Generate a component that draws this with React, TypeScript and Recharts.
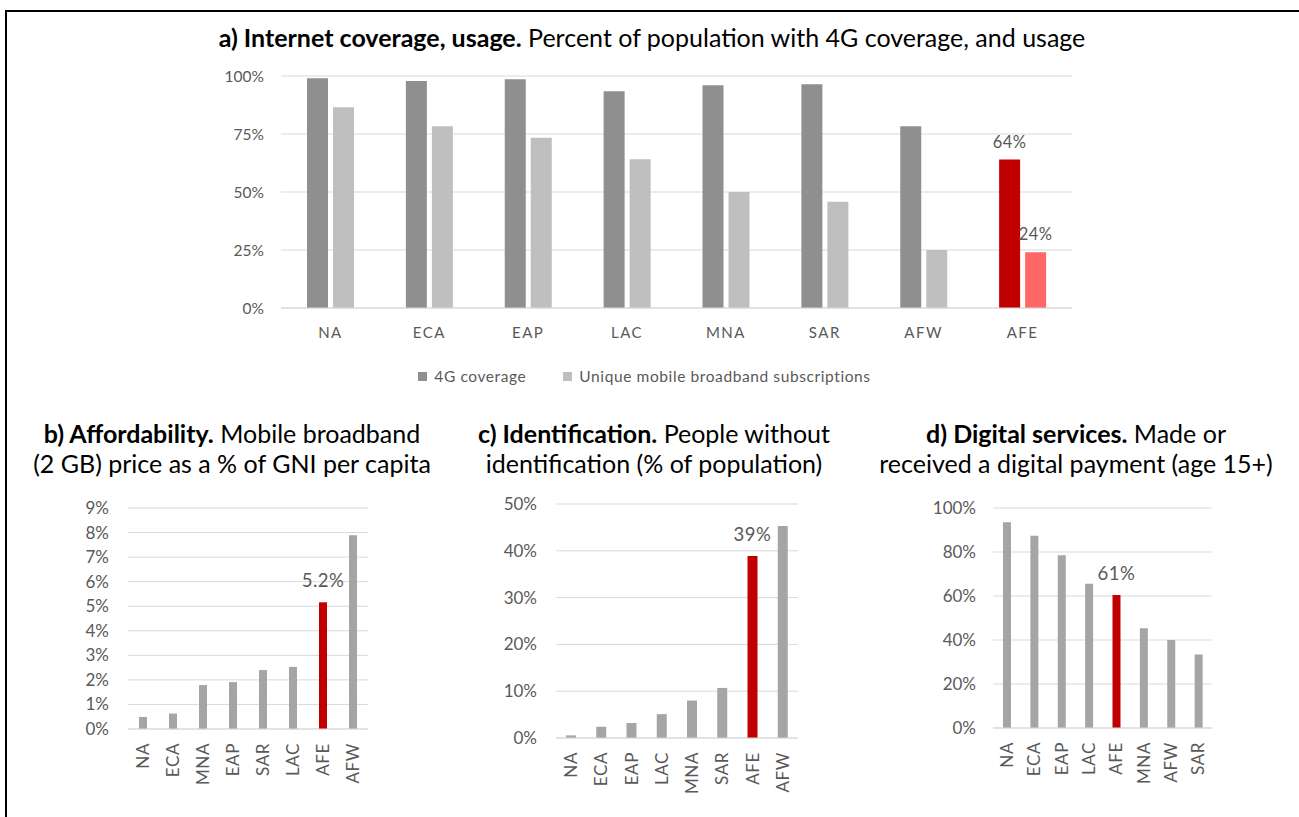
import React from 'react'
import {
  Bar,
  BarChart,
  CartesianGrid,
  Cell,
  LabelList,
  Legend,
  XAxis,
  YAxis
} from 'recharts'

// a) Internet coverage, usage
const regionsA = ['NA', 'ECA', 'EAP', 'LAC', 'MNA', 'SAR', 'AFW', 'AFE']
const coverage4G = [99, 97.8, 98.6, 93.4, 96, 96.4, 78.3, 64]
const broadbandSubs = [86.5, 78.3, 73.4, 64.1, 50, 45.8, 25, 24]
const coverageLabels = ['', '', '', '', '', '', '', '64%']
const subsLabels = ['', '', '', '', '', '', '', '24%']
const ticksA = [0, 25, 50, 75, 100]

// b) Affordability
const regionsB = ['NA', 'ECA', 'MNA', 'EAP', 'SAR', 'LAC', 'AFE', 'AFW']
const priceShare = [0.49, 0.63, 1.79, 1.91, 2.4, 2.53, 5.16, 7.89]
const priceLabels = ['', '', '', '', '', '', '5.2%', '']
const ticksB = [0, 1, 2, 3, 4, 5, 6, 7, 8, 9]

// c) Identification
const regionsC = ['NA', 'ECA', 'EAP', 'LAC', 'MNA', 'SAR', 'AFE', 'AFW']
const noIdShare = [0.56, 2.4, 3.2, 5.1, 8.0, 10.7, 38.9, 45.3]
const noIdLabels = ['', '', '', '', '', '', '39%', '']
const ticksC = [0, 10, 20, 30, 40, 50]

// d) Digital services
const regionsD = ['NA', 'ECA', 'EAP', 'LAC', 'AFE', 'MNA', 'AFW', 'SAR']
const digitalPay = [93.5, 87.4, 78.5, 65.6, 60.4, 45.3, 40, 33.4]
const digitalLabels = ['', '', '', '', '61%', '', '', '']
const ticksD = [0, 20, 40, 60, 80, 100]

const FONT = 'Lato, "Open Sans", sans-serif'
const TEXT = '#595959'
const GRID = '#d9d9d9'
const DARK = '#8f8f8f'
const LIGHT = '#bfbfbf'
const RED = '#c00000'
const LIGHT_RED = '#ff6666'
const BAR_GREY = '#a5a5a5'

const pct = (v: number) => `${v}%`

const dataA = regionsA.map((name, i) => ({
  name,
  coverage: coverage4G[i],
  subs: broadbandSubs[i],
  coverageLabel: coverageLabels[i],
  subsLabel: subsLabels[i]
}))

function TopLegend() {
  const items = [
    { name: '4G coverage', color: DARK },
    { name: 'Unique mobile broadband subscriptions', color: LIGHT }
  ]
  return (
    <div style={{ display: 'flex', justifyContent: 'center', height: 16, alignItems: 'center', paddingLeft: 16 }}>
      {items.map((it, i) => (
        <div key={it.name} style={{ display: 'flex', alignItems: 'center', marginLeft: i ? 37 : 0 }}>
          <span style={{ width: 9, height: 9, background: it.color, display: 'inline-block', marginRight: 7 }} />
          <span style={{ fontSize: 15.5, color: TEXT, fontFamily: FONT, letterSpacing: 0.6 }}>{it.name}</span>
        </div>
      ))}
    </div>
  )
}

function RotatedTick({ x, y, payload }: any) {
  return (
    <text
      x={x}
      y={y}
      transform={`rotate(-90 ${x} ${y})`}
      textAnchor="end"
      dy="0.36em"
      fill={TEXT}
      fontSize={17}
      fontFamily={FONT}
      letterSpacing={0.6}
    >
      {payload.value}
    </text>
  )
}

interface SmallProps {
  names: string[]
  values: number[]
  labels: string[]
  ticks: number[]
  plot: { left: number; top: number; right: number; bottom: number }
  barSize: number
  tickGap: number
}

function SmallBarChart({ names, values, labels, ticks, plot, barSize, tickGap }: SmallProps) {
  const data = names.map((name, i) => ({ name, value: values[i], label: labels[i] }))
  const left = plot.left - 70
  const top = plot.top - 10
  const width = plot.right - left + 5
  const height = plot.bottom - top + 70
  return (
    <div style={{ position: 'absolute', left, top }}>
      <BarChart width={width} height={height} data={data} margin={{ top: 10, right: 5, bottom: 0, left: 0 }}>
        <CartesianGrid vertical={false} stroke={GRID} />
        <XAxis
          dataKey="name"
          interval={0}
          height={70}
          tickLine={false}
          axisLine={{ stroke: GRID }}
          tickSize={0}
          tickMargin={14}
          tick={<RotatedTick />}
        />
        <YAxis
          width={70}
          domain={[ticks[0], ticks[ticks.length - 1]]}
          ticks={ticks}
          interval={0}
          tickFormatter={pct}
          axisLine={false}
          tickLine={false}
          tickSize={0}
          tickMargin={tickGap}
          tick={{ fill: TEXT, fontSize: 17, fontFamily: FONT }}
        />
        <Bar dataKey="value" barSize={barSize} isAnimationActive={false}>
          {data.map((d, i) => (
            <Cell key={`c-${i}`} fill={d.name === 'AFE' ? RED : BAR_GREY} />
          ))}
          <LabelList dataKey="label" position="top" offset={15} fill={TEXT} fontSize={18.5} fontFamily={FONT} letterSpacing={0.5} />
        </Bar>
      </BarChart>
    </div>
  )
}

const titleBold: React.CSSProperties = { fontWeight: 700 }

export default function App() {
  return (
    <div
      style={{
        position: 'absolute',
        left: 0,
        top: 0,
        width: 1299,
        height: 817,
        background: '#fff',
        fontFamily: FONT,
        overflow: 'hidden'
      }}
    >
      <div
        style={{
          position: 'absolute',
          left: 5,
          top: 10,
          width: 1300,
          height: 820,
          borderTop: '2px solid #000',
          borderLeft: '2px solid #000'
        }}
      />

      <div style={{ position: 'absolute', left: 0, width: 1304, top: 23, textAlign: 'center', fontSize: 25, color: '#000', lineHeight: '28px' }}>
        <span style={titleBold}>a) Internet coverage, usage.</span> Percent of population with 4G coverage, and usage
      </div>

      <div style={{ position: 'absolute', left: 201, top: 66 }}>
        <BarChart
          width={881}
          height={318}
          data={dataA}
          barGap={5}
          margin={{ top: 10, right: 10, bottom: 0, left: 0 }}
        >
          <CartesianGrid vertical={false} stroke={GRID} />
          <XAxis
            dataKey="name"
            interval={0}
            height={60}
            tickLine={false}
            axisLine={{ stroke: GRID }}
            tickSize={0}
            tickMargin={19}
            tick={{ fill: TEXT, fontSize: 15, fontFamily: FONT, letterSpacing: 1.5 }}
          />
          <YAxis
            width={80}
            domain={[0, 100]}
            ticks={ticksA}
            interval={0}
            tickFormatter={pct}
            axisLine={false}
            tickLine={false}
            tickSize={0}
            tickMargin={17}
            tick={{ fill: TEXT, fontSize: 15.5, fontFamily: FONT }}
          />
          <Legend content={<TopLegend />} verticalAlign="bottom" height={16} />
          <Bar dataKey="coverage" name="4G coverage" fill={DARK} barSize={21} isAnimationActive={false}>
            {dataA.map((d, i) => (
              <Cell key={`a-${i}`} fill={d.name === 'AFE' ? RED : DARK} />
            ))}
            <LabelList dataKey="coverageLabel" position="top" offset={12} fill={TEXT} fontSize={16.5} fontFamily={FONT} letterSpacing={0.5} />
          </Bar>
          <Bar dataKey="subs" name="Unique mobile broadband subscriptions" fill={LIGHT} barSize={21} isAnimationActive={false}>
            {dataA.map((d, i) => (
              <Cell key={`b-${i}`} fill={d.name === 'AFE' ? LIGHT_RED : LIGHT} />
            ))}
            <LabelList dataKey="subsLabel" position="top" offset={12} fill={TEXT} fontSize={16.5} fontFamily={FONT} letterSpacing={0.5} />
          </Bar>
        </BarChart>
      </div>

      {[
        { cx: 232, bold: 'b) Affordability.', rest: ' Mobile broadband', line2: '(2 GB) price as a % of GNI per capita' },
        { cx: 654, bold: 'c) Identification.', rest: ' People without', line2: 'identification (% of population)' },
        { cx: 1076, bold: 'd) Digital services.', rest: ' Made or', line2: 'received a digital payment (age 15+)' }
      ].map(t => (
        <div
          key={t.bold}
          style={{
            position: 'absolute',
            left: t.cx - 230,
            width: 460,
            top: 418,
            textAlign: 'center',
            fontSize: 25,
            lineHeight: '30px',
            color: '#000'
          }}
        >
          <span style={titleBold}>{t.bold}</span>
          {t.rest}
          <br />
          {t.line2}
        </div>
      ))}

      <SmallBarChart
        names={regionsB}
        values={priceShare}
        labels={priceLabels}
        ticks={ticksB}
        plot={{ left: 128, top: 508, right: 368, bottom: 729 }}
        barSize={8}
        tickGap={19}
      />
      <SmallBarChart
        names={regionsC}
        values={noIdShare}
        labels={noIdLabels}
        ticks={ticksC}
        plot={{ left: 556, top: 504, right: 798, bottom: 738 }}
        barSize={10}
        tickGap={19}
      />
      <SmallBarChart
        names={regionsD}
        values={digitalPay}
        labels={digitalLabels}
        ticks={ticksD}
        plot={{ left: 993, top: 508, right: 1212, bottom: 728 }}
        barSize={8}
        tickGap={17}
      />
    </div>
  )
}
